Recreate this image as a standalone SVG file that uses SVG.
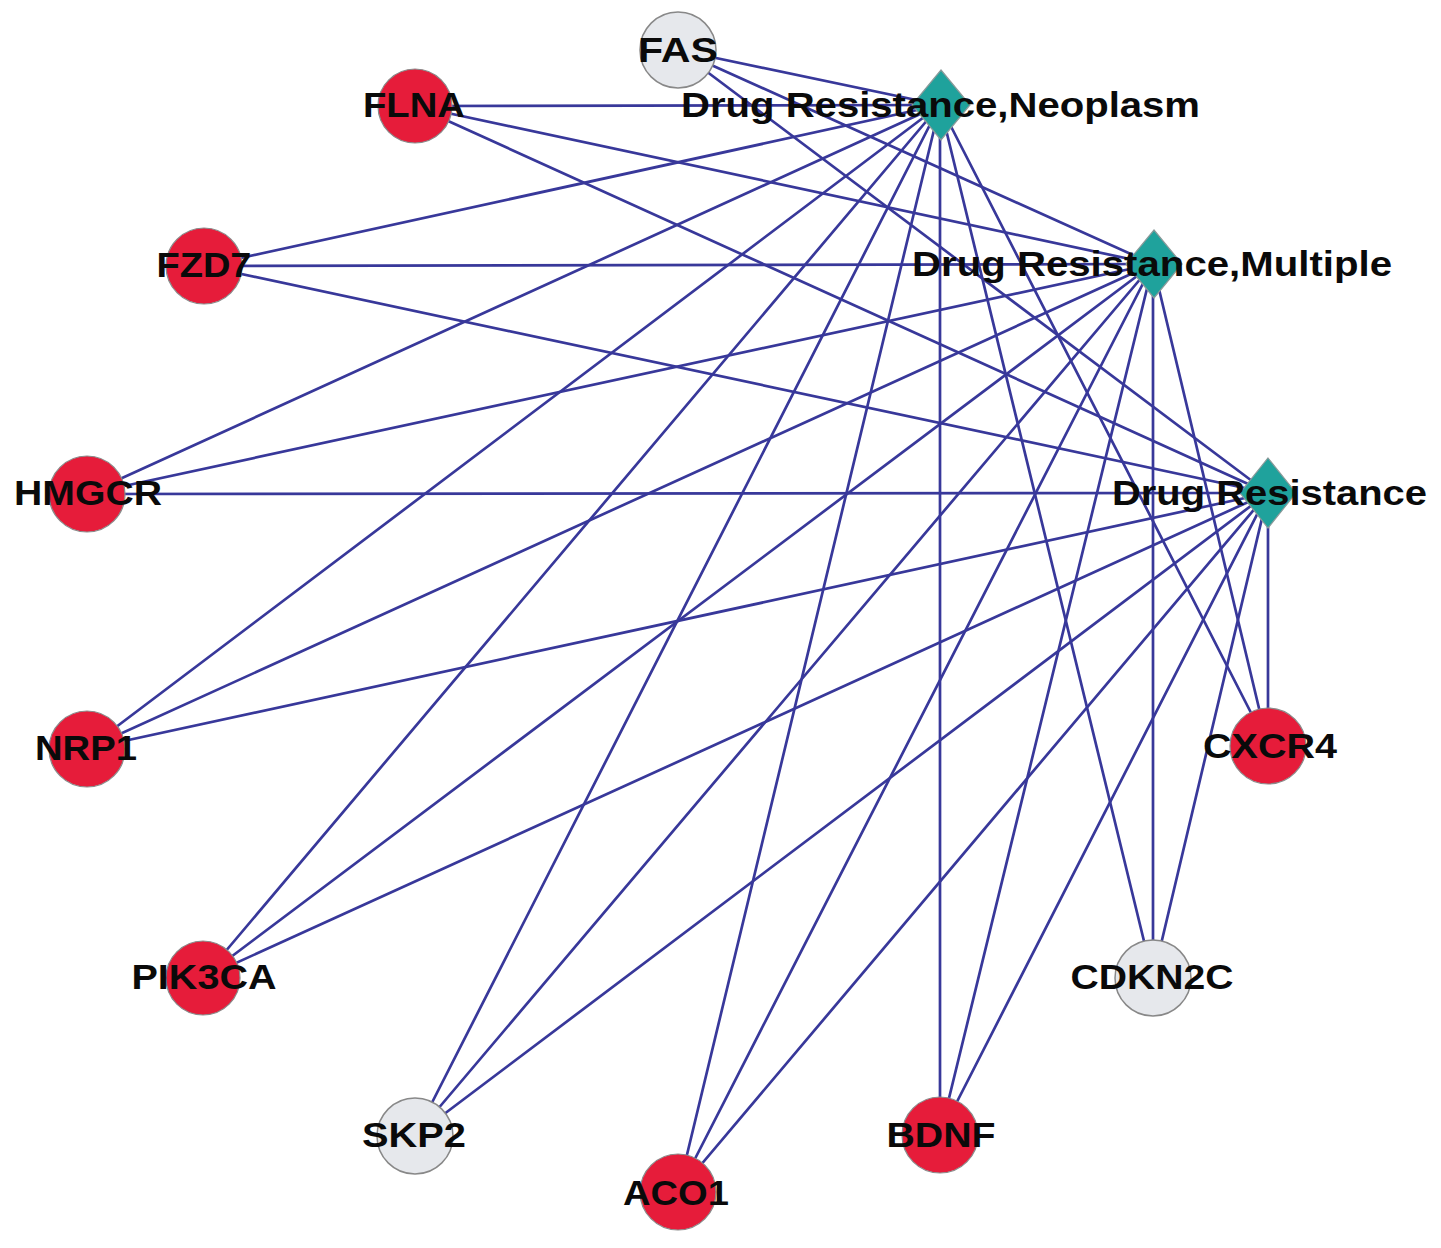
<svg xmlns="http://www.w3.org/2000/svg" width="1441" height="1248" viewBox="0 0 1441 1248">
<style>
.e{stroke:#38389a;stroke-width:2.7;fill:none}
.r{fill:#e61c3a;stroke:#8a8a8a;stroke-width:1.2}
.g{fill:#e6e8ec;stroke:#888;stroke-width:1.5}
.d{fill:#1fa29c;stroke:#8a9a9a;stroke-width:1.2}
.t{font-family:"Liberation Sans",Arial,sans-serif;font-weight:bold;font-size:35px;fill:#0a0a0a;text-anchor:middle}
.tl{font-family:"Liberation Sans",Arial,sans-serif;font-weight:bold;font-size:35px;fill:#0a0a0a}
</style>
<rect width="1441" height="1248" fill="#fff"/>
<g id="edges">
<path class="e" d="M678 50L940 105M678 50L1153 264M678 50L1268 493"/>
<path class="e" d="M415 106L940 105M415 106L1153 264M415 106L1268 493"/>
<path class="e" d="M204 266L940 105M204 266L1153 264M204 266L1268 493"/>
<path class="e" d="M87 494L940 105M87 494L1153 264M87 494L1268 493"/>
<path class="e" d="M87 749L940 105M87 749L1153 264M87 749L1268 493"/>
<path class="e" d="M203 978L940 105M203 978L1153 264M203 978L1268 493"/>
<path class="e" d="M415 1136L940 105M415 1136L1153 264M415 1136L1268 493"/>
<path class="e" d="M678 1192L940 105M678 1192L1153 264M678 1192L1268 493"/>
<path class="e" d="M940 1135L940 105M940 1135L1153 264M940 1135L1268 493"/>
<path class="e" d="M1153 978L940 105M1153 978L1153 264M1153 978L1268 493"/>
<path class="e" d="M1268 746L940 105M1268 746L1153 264M1268 746L1268 493"/>
</g>
<g id="node-FAS"><circle class="g" cx="678" cy="50" r="38"/><text class="t" x="678" y="62" textLength="80" lengthAdjust="spacingAndGlyphs">FAS</text></g>
<g id="node-FLNA"><circle class="r" cx="415" cy="106" r="37"/><text class="t" x="414" y="117" textLength="102" lengthAdjust="spacingAndGlyphs">FLNA</text></g>
<g id="node-FZD7"><circle class="r" cx="204" cy="266" r="38"/><text class="t" x="204" y="277" textLength="95" lengthAdjust="spacingAndGlyphs">FZD7</text></g>
<g id="node-HMGCR"><circle class="r" cx="87" cy="494" r="38"/><text class="t" x="88" y="505" textLength="148" lengthAdjust="spacingAndGlyphs">HMGCR</text></g>
<g id="node-NRP1"><circle class="r" cx="87" cy="749" r="38"/><text class="t" x="86" y="760" textLength="102" lengthAdjust="spacingAndGlyphs">NRP1</text></g>
<g id="node-PIK3CA"><circle class="r" cx="203" cy="978" r="37"/><text class="t" x="204" y="989" textLength="145" lengthAdjust="spacingAndGlyphs">PIK3CA</text></g>
<g id="node-SKP2"><circle class="g" cx="415" cy="1136" r="38"/><text class="t" x="414" y="1147" textLength="104" lengthAdjust="spacingAndGlyphs">SKP2</text></g>
<g id="node-ACO1"><circle class="r" cx="678" cy="1192" r="38"/><text class="t" x="676" y="1205" textLength="106" lengthAdjust="spacingAndGlyphs">ACO1</text></g>
<g id="node-BDNF"><circle class="r" cx="940" cy="1135" r="38"/><text class="t" x="941" y="1147" textLength="109" lengthAdjust="spacingAndGlyphs">BDNF</text></g>
<g id="node-CDKN2C"><circle class="g" cx="1153" cy="978" r="38"/><text class="t" x="1152" y="989" textLength="163" lengthAdjust="spacingAndGlyphs">CDKN2C</text></g>
<g id="node-CXCR4"><circle class="r" cx="1268" cy="746" r="38"/><text class="t" x="1270" y="758" textLength="134" lengthAdjust="spacingAndGlyphs">CXCR4</text></g>
<g id="node-DrugResistanceNeoplasm"><polygon class="d" points="941,70 970,105 941,140 912,105"/><text class="tl" x="681" y="117" textLength="519" lengthAdjust="spacingAndGlyphs">Drug Resistance,Neoplasm</text></g>
<g id="node-DrugResistanceMultiple"><polygon class="d" points="1154,230 1182,264 1154,298 1126,264"/><text class="tl" x="912" y="276" textLength="480" lengthAdjust="spacingAndGlyphs">Drug Resistance,Multiple</text></g>
<g id="node-DrugResistance"><polygon class="d" points="1268,458 1296,493 1268,528 1240,493"/><text class="tl" x="1112" y="505" textLength="315" lengthAdjust="spacingAndGlyphs">Drug Resistance</text></g>
</svg>
